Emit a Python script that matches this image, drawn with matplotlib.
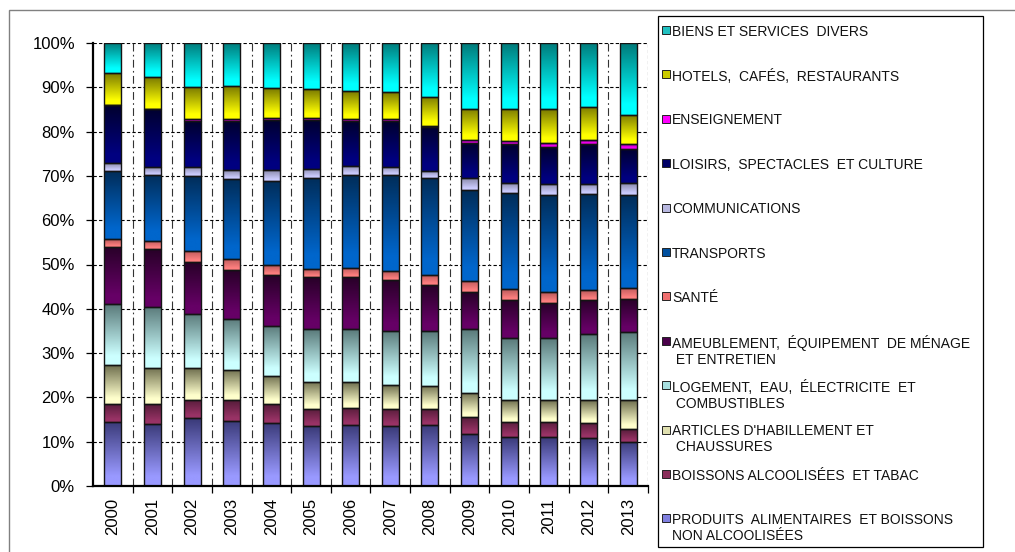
import numpy as np
import matplotlib
matplotlib.use("Agg")
import matplotlib.pyplot as plt
from matplotlib.colors import to_rgb
from matplotlib.patches import Rectangle

plt.rcParams["font.family"] = ["Liberation Sans", "DejaVu Sans"]

# =========================================================
# DATA (share of total, %, bottom to top)
# =========================================================
years = [str(y) for y in range(2000, 2014)]

categories = [
    "PRODUITS  ALIMENTAIRES  ET BOISSONS\nNON ALCOOLISÉES",
    "BOISSONS ALCOOLISÉES  ET TABAC",
    "ARTICLES D'HABILLEMENT ET\n CHAUSSURES",
    "LOGEMENT,  EAU,  ÉLECTRICITE  ET\n COMBUSTIBLES",
    "AMEUBLEMENT,  ÉQUIPEMENT  DE MÉNAGE\n ET ENTRETIEN",
    "SANTÉ",
    "TRANSPORTS",
    "COMMUNICATIONS",
    "LOISIRS,  SPECTACLES  ET CULTURE",
    "ENSEIGNEMENT",
    "HOTELS,  CAFÉS,  RESTAURANTS",
    "BIENS ET SERVICES  DIVERS",
]

food      = [14.5, 14.1, 15.3, 14.7, 14.3, 13.5, 13.8, 13.5, 13.8, 11.7, 11.0, 11.0, 10.8, 10.0]
alcohol   = [4.1, 4.3, 4.2, 4.7, 4.2, 3.9, 3.9, 3.9, 3.6, 3.8, 3.5, 3.5, 3.5, 2.9]
clothing  = [8.8, 8.3, 7.2, 6.8, 6.4, 6.1, 5.8, 5.4, 5.2, 5.6, 4.9, 4.9, 5.1, 6.5]
housing   = [13.6, 13.8, 12.2, 11.6, 11.3, 11.9, 11.9, 12.2, 12.4, 14.3, 13.9, 13.9, 14.8, 15.4]
furniture = [13.0, 12.9, 11.6, 10.9, 11.4, 11.7, 11.7, 11.6, 10.3, 8.3, 8.7, 8.1, 7.8, 7.3]
health    = [1.8, 1.9, 2.5, 2.6, 2.2, 1.8, 2.2, 2.0, 2.3, 2.6, 2.4, 2.3, 2.2, 2.6]
transport = [15.3, 15.0, 16.9, 18.0, 19.1, 20.6, 20.8, 21.5, 21.9, 20.5, 21.8, 21.9, 21.7, 20.9]
comm      = [1.8, 1.7, 2.1, 2.0, 2.4, 2.1, 2.1, 1.9, 1.6, 2.7, 2.2, 2.6, 2.3, 2.7]
leisure   = [13.0, 13.1, 10.3, 11.0, 11.4, 11.1, 10.1, 10.3, 10.0, 7.9, 8.8, 8.3, 8.9, 7.8]
education = [0.1, 0.1, 0.6, 0.6, 0.4, 0.4, 0.6, 0.6, 0.1, 0.6, 0.6, 0.9, 0.9, 1.1]
hotels    = [7.2, 7.1, 7.1, 7.3, 6.7, 6.5, 6.3, 6.0, 6.6, 7.2, 7.4, 7.6, 7.5, 6.6]
misc      = [6.8, 7.7, 10.0, 9.8, 10.2, 10.4, 10.8, 11.1, 12.2, 14.8, 14.8, 15.0, 14.5, 16.2]

series = [food, alcohol, clothing, housing, furniture, health,
          transport, comm, leisure, education, hotels, misc]

# gradient colours: (top dark, bottom light), legend swatch
grad_colors = [
    ("#3a3a78", "#9999ff"),
    ("#561c3a", "#993366"),
    ("#6e6e4e", "#ffffcc"),
    ("#5a7a7a", "#ccffff"),
    ("#280028", "#660066"),
    ("#b85858", "#ff8080"),
    ("#002d5a", "#0066cc"),
    ("#8a8aaa", "#ccccff"),
    ("#00002e", "#000080"),
    ("#b000b0", "#ff00ff"),
    ("#7a7a00", "#ffff00"),
    ("#007a7a", "#00ffff"),
]
swatch_colors = ["#8080e0", "#8a2e5a", "#e0e0b0", "#a8e0e0", "#4a004a", "#f07070",
                 "#00509f", "#b8b8e0", "#000066", "#ff00ff", "#cccc00", "#20c0c0"]

W, H = 1015, 552


def gradient_image(top, bottom, n=64):
    t = np.linspace(0, 1, n)
    t = np.clip(t / 0.85, 0, 1)
    c0 = np.array(to_rgb(top))
    c1 = np.array(to_rgb(bottom))
    img = c0[None, :] * (1 - t[:, None]) + c1[None, :] * t[:, None]
    return img[:, None, :]


# =========================================================
# FIGURE
# =========================================================
fig = plt.figure(figsize=(W / 100, H / 100), dpi=100)
fig.patch.set_facecolor("white")

# outer chart border
fig.patches.append(Rectangle((9 / W, -0.1), 1.2, 1 - 10 / H + 0.1,
                             transform=fig.transFigure, fill=False,
                             edgecolor="#808080", linewidth=1.0))

ax = fig.add_axes([93 / W, (H - 486) / H, 555 / W, 443 / H])
x = np.arange(len(years))
bar_w = 0.43

bottom = np.zeros(len(years))
for vals, (ctop, cbot) in zip(series, grad_colors):
    v = np.array(vals) / 100.0
    bars = ax.bar(x, v, bar_w, bottom=bottom, facecolor="none",
                  edgecolor="#141414", linewidth=1.0, zorder=4)
    img = gradient_image(ctop, cbot)
    for b in bars:
        ax.imshow(img, extent=(b.get_x(), b.get_x() + b.get_width(),
                               b.get_y(), b.get_y() + b.get_height()),
                  aspect="auto", origin="upper", interpolation="bilinear",
                  zorder=3)
    bottom += v

ax.set_xlim(-0.5, len(years) - 0.5)
ax.set_ylim(0, 1)

# grid
for yv in np.arange(0.1, 1.01, 0.1):
    ax.axhline(yv, color="black", linewidth=0.8, dashes=(3, 2), zorder=1)
for k in range(1, len(years)):
    ax.axvline(k - 0.5, color="#333333", linewidth=0.8, dashes=(7, 3, 1.5, 3), zorder=1)
ax.axvline(len(years) - 0.5, color="black", linewidth=0.8, dashes=(3, 2), zorder=1)

for s in ["top", "right"]:
    ax.spines[s].set_visible(False)
for s in ["left", "bottom"]:
    ax.spines[s].set_linewidth(1.6)
    ax.spines[s].set_zorder(5)

ax.set_yticks(np.arange(0, 1.01, 0.1))
ax.set_yticklabels([f"{int(round(v * 100))}%" for v in np.arange(0, 1.01, 0.1)],
                   fontsize=12)
ax.tick_params(axis="y", direction="out", length=5, width=0.9, pad=8)

ax.set_xticks(x)
ax.set_xticklabels(years, rotation=90, fontsize=12)
ax.tick_params(axis="x", which="major", length=0, pad=8.5)
ax.set_xticks(np.arange(0.5, len(years) - 0.5 + 0.01, 1.0), minor=True)
ax.tick_params(axis="x", which="minor", direction="out", length=5, width=0.9)

# =========================================================
# LEGEND (manual box, top entry = top of stack)
# =========================================================
fig.patches.append(Rectangle((658 / W, (H - 547) / H), (983 - 658) / W, (547 - 16) / H,
                             transform=fig.transFigure, fill=False,
                             edgecolor="black", linewidth=0.9))

step = 44.4
for i, idx in enumerate(range(len(categories) - 1, -1, -1)):
    yc = 30 + i * step
    fig.patches.append(Rectangle((662 / W, (H - yc - 4) / H), 8 / W, 8 / H,
                                 transform=fig.transFigure,
                                 facecolor=swatch_colors[idx], edgecolor="#222222",
                                 linewidth=0.7))
    fig.text(672 / W, (H - yc + 5.5) / H, categories[idx], fontsize=10,
             va="top", ha="left", linespacing=1.2, color="#111111")

fig.savefig("out.png", dpi=100)
